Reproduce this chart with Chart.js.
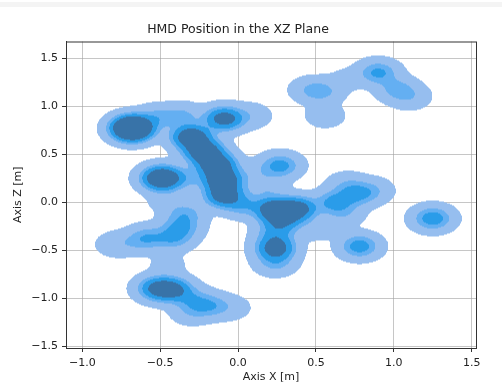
<!DOCTYPE html>
<html>
    <head>
        <title>HMD Position in the XZ Plane</title>
        <script src="https://cdn.jsdelivr.net/npm/chart.js@4.4.0/dist/chart.umd.min.js"></script>
        <style>
            body { margin: 0; background: #fff; }
            #strip { position: absolute; left: 0; top: 2px; width: 502px; height: 5px; background: #f4f4f4; }
        </style>
        <script type="text/javascript">
            // kernel centres of the HMD positions (x, z in metres) and their weights
            const blobX = [-0.68, -0.52, -0.36, -0.30, -0.22, -0.14, -0.10, -0.09, -0.09, 0.08, -0.49, -0.33,
                           0.03, 0.23, 0.38, 0.28, 0.24, 0.24, 0.24, 0.27, 0.12, 0.18,
                           0.62, 0.76, 0.86, 0.70, 0.68, 0.50, 0.78, 1.25,
                           0.47, 0.55, 0.56, 0.70, 0.90, 1.02, 1.10,
                           -0.37, -0.42, -0.58, -0.78, -0.34, -0.45, -0.65,
                           -0.52, -0.42, -0.18, -0.30, -0.05, -0.30, -0.45, -0.28];
            const blobZ = [0.77, 0.88, 0.90, 0.68, 0.53, 0.39, 0.23, 0.07, 0.87, 0.90, 0.25, 0.25,
                           -0.03, -0.07, -0.07, -0.18, -0.48, -0.33, -0.63, 0.38, 0.30, 0.15,
                           0.00, 0.08, 0.12, 0.18, -0.12, -0.27, -0.46, -0.17,
                           1.17, 1.15, 0.90, 1.28, 1.35, 1.18, 1.10,
                           -0.27, -0.38, -0.37, -0.44, -0.13, 0.02, -0.42,
                           -0.90, -0.91, -1.08, -1.00, -1.10, -1.15, -0.65, -1.07];
            const blobW = [4.6, 0.5, 0.45, 2.2, 2.2, 2.2, 2.2, 1.8, 1.7, 0.25, 2.7, 0.35,
                           0.6, 1.9, 1.8, 1.4, 1.7, 0.7, 0.5, 0.9, 0.2, 0.3,
                           0.85, 0.72, 0.35, 0.3, 0.3, 0.2, 0.95, 1.0,
                           0.36, 0.36, 0.2, 0.12, 0.8, 0.5, 0.3,
                           0.72, 0.6, 0.6, 0.25, 0.55, 0.2, 0.2,
                           1.4, 1.4, 0.6, 0.4, 0.2, 0.25, 0.12, 0.2];
            const bandwidth = 0.075;
            // density thresholds of the filled contour levels
            const levels = [0.045, 0.375, 0.68, 1.2];
            const xTicks = [-1.0, -0.5, 0.0, 0.5, 1.0, 1.5];
            const zTicks = [-1.5, -1.0, -0.5, 0.0, 0.5, 1.0, 1.5];

            const levelColors = [[150, 190, 239], [100, 175, 242], [42, 156, 233], [56, 115, 168]];

            function density(x, z) {
                let d = 0;
                const k = 1 / (2 * bandwidth * bandwidth);
                for (let i = 0; i < blobX.length; i++) {
                    const dx = x - blobX[i], dz = z - blobZ[i];
                    d += blobW[i] * Math.exp(-(dx * dx + dz * dz) * k);
                }
                return d;
            }

            const kdePlugin = {
                id: 'kde',
                beforeDatasetsDraw(chart) {
                    const ctx = chart.ctx;
                    const a = chart.chartArea;
                    const xs = chart.scales.x, ys = chart.scales.y;
                    const w = Math.round(a.right - a.left), h = Math.round(a.bottom - a.top);
                    const off = document.createElement('canvas');
                    off.width = w; off.height = h;
                    const octx = off.getContext('2d');
                    const img = octx.createImageData(w, h);
                    const colX = [];
                    for (let i = 0; i < w; i++) colX.push(xs.getValueForPixel(a.left + i + 0.5));
                    for (let j = 0; j < h; j++) {
                        const zv = ys.getValueForPixel(a.top + j + 0.5);
                        for (let i = 0; i < w; i++) {
                            const d = density(colX[i], zv);
                            let lev = -1;
                            for (let l = 0; l < levels.length; l++) if (d >= levels[l]) lev = l;
                            if (lev < 0) continue;
                            const c = levelColors[lev];
                            const p = (j * w + i) * 4;
                            img.data[p] = c[0]; img.data[p + 1] = c[1]; img.data[p + 2] = c[2]; img.data[p + 3] = 255;
                        }
                    }
                    octx.putImageData(img, 0, 0);
                    ctx.drawImage(off, a.left, a.top);
                }
            };

            // top and right spines
            const framePlugin = {
                id: 'frame',
                afterDraw(chart) {
                    const ctx = chart.ctx, a = chart.chartArea;
                    ctx.save();
                    ctx.strokeStyle = '#333';
                    ctx.lineWidth = 1;
                    ctx.strokeRect(a.left + 0.5, a.top + 0.5, a.right - a.left, a.bottom - a.top);
                    ctx.restore();
                }
            };

            function fmt(v) {
                return v.toFixed(1).replace('-', '\u2212');
            }

            document.addEventListener('DOMContentLoaded', init);
            function init() {
                const pts = [];
                for (let i = 0; i < blobX.length; i++) pts.push({x: blobX[i], y: blobZ[i]});
                const ctx = document.getElementById('myChart').getContext('2d');
                new Chart(ctx, {
                    type: 'scatter',
                    data: {
                        datasets: [{
                            label: 'HMD',
                            data: pts,
                            pointRadius: 0,
                            pointHoverRadius: 0
                        }]
                    },
                    plugins: [kdePlugin, framePlugin],
                    options: {
                        responsive: false,
                        animation: false,
                        events: [],
                        layout: { padding: { left: 0, right: 26, top: 0, bottom: 0 } },
                        plugins: {
                            legend: { display: false },
                            tooltip: { enabled: false },
                            title: {
                                display: true,
                                text: 'HMD Position in the XZ Plane',
                                color: '#222',
                                font: { family: 'DejaVu Sans', size: 12.5, weight: 'normal' },
                                padding: { top: 22, bottom: 4.5 }
                            }
                        },
                        scales: {
                            x: {
                                type: 'linear',
                                min: -1.105,
                                max: 1.528,
                                z: 1,
                                afterFit: s => { s.height = 36; },
                                afterBuildTicks: s => { s.ticks = xTicks.map(v => ({value: v})); },
                                ticks: {
                                    color: '#222',
                                    font: { family: 'DejaVu Sans', size: 11 },
                                    padding: 4.4,
                                    maxRotation: 0,
                                    callback: v => fmt(v)
                                },
                                grid: { color: 'rgba(160,160,160,0.6)', tickColor: '#333', tickLength: 4 },
                                border: { display: true, color: '#333' },
                                title: {
                                    display: true,
                                    text: 'Axis X [m]',
                                    color: '#222',
                                    font: { family: 'DejaVu Sans', size: 11 },
                                    padding: { top: 0, bottom: 0 }
                                }
                            },
                            y: {
                                type: 'linear',
                                min: -1.52,
                                max: 1.675,
                                z: 1,
                                afterFit: s => { s.width = 66; },
                                afterBuildTicks: s => { s.ticks = zTicks.map(v => ({value: v})); },
                                ticks: {
                                    color: '#222',
                                    font: { family: 'DejaVu Sans', size: 11 },
                                    padding: 4,
                                    callback: v => fmt(v)
                                },
                                grid: { color: 'rgba(160,160,160,0.6)', tickColor: '#333', tickLength: 4 },
                                border: { display: true, color: '#333' },
                                title: {
                                    display: true,
                                    text: 'Axis Z [m]',
                                    color: '#222',
                                    font: { family: 'DejaVu Sans', size: 11 },
                                    padding: { top: 11.4, bottom: 0 }
                                }
                            }
                        }
                    }
                });
            }
        </script>
    </head>
    <body>
        <div id="strip"></div>
        <canvas id="myChart" width="502" height="384"></canvas>
    </body>
</html>
